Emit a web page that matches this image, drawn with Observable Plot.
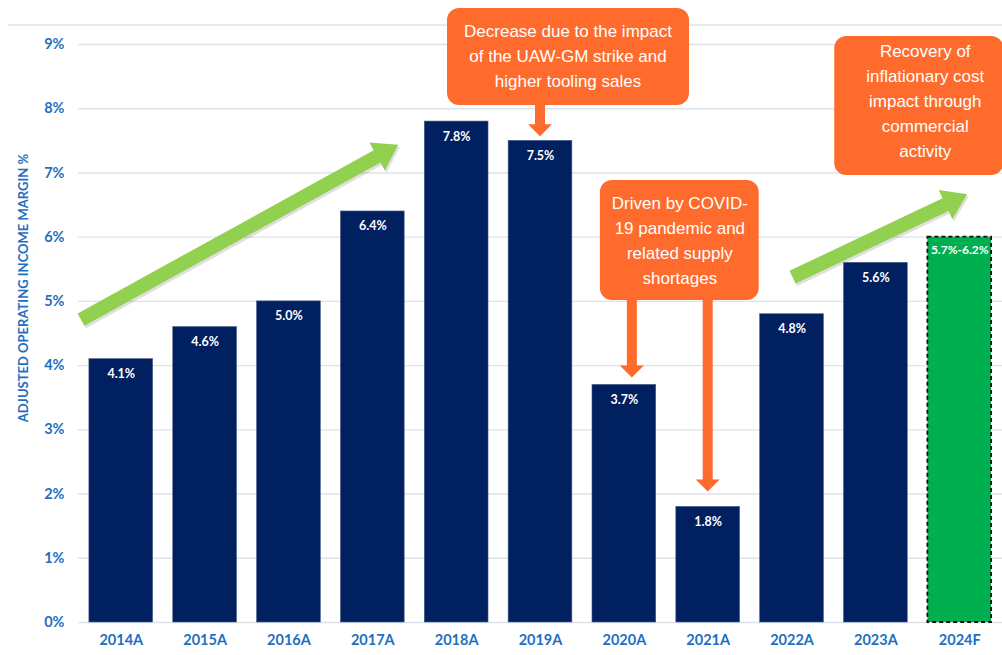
<!DOCTYPE html>
<html>
<head>
<meta charset="utf-8">
<script src="https://cdn.jsdelivr.net/npm/d3@7"></script>
<script src="https://cdn.jsdelivr.net/npm/@observablehq/plot@0.6"></script>
<style>
  html, body { margin: 0; padding: 0; background: #ffffff; }
  #chart { width: 1002px; height: 655px; overflow: hidden; }
</style>
</head>
<body>
<div id="chart"></div>
<script>
// ---- Data ----
const categories = ["2014A", "2015A", "2016A", "2017A", "2018A", "2019A", "2020A", "2021A", "2022A", "2023A", "2024F"];
const actualYears = ["2014A", "2015A", "2016A", "2017A", "2018A", "2019A", "2020A", "2021A", "2022A", "2023A"];
const actualValues = [4.1, 4.6, 5.0, 6.4, 7.8, 7.5, 3.7, 1.8, 4.8, 5.6];
const actualLabels = ["4.1%", "4.6%", "5.0%", "6.4%", "7.8%", "7.5%", "3.7%", "1.8%", "4.8%", "5.6%"];
const forecastYears = ["2024F"];
const forecastValues = [6.0];
const forecastLabels = ["5.7%-6.2%"];
const yTicks = [0, 1, 2, 3, 4, 5, 6, 7, 8, 9];
const yTitle = "ADJUSTED OPERATING INCOME MARGIN %";
const callout1 = ["Decrease due to the impact", "of the UAW-GM strike and", "higher tooling sales"];
const callout2 = ["Driven by COVID-", "19 pandemic and", "related supply", "shortages"];
const callout3 = ["Recovery of", "inflationary cost", "impact through", "commercial", "activity"];

const actual = actualYears.map((c, i) => ({cat: c, v: actualValues[i], label: actualLabels[i]}));
const forecast = forecastYears.map((c, i) => ({cat: c, v: forecastValues[i], label: forecastLabels[i]}));

const NAVY = "#002060", BLUE = "#1F6FBF", ORANGE = "#FF6B2D", LIME = "#92D050", GRID = "#DCE2EB";

function annotations(index, scales, values, dimensions) {
  const sx = scales.x, sy = scales.y;
  let bw = (scales.scales && scales.scales.x && scales.scales.x.bandwidth) || (typeof sx.bandwidth === "function" ? sx.bandwidth() : 64);
  const xc = c => sx(c) + bw / 2;
  const g = d3.create("svg:g").attr("font-weight", "normal");

  // top border line
  g.append("line").attr("x1", 8).attr("x2", dimensions.width).attr("y1", 25).attr("y2", 25)
    .attr("stroke", GRID).attr("stroke-width", 1.3);

  // y axis title
  g.append("text").attr("transform", `translate(25,${sy(5.2)}) rotate(-90)`)
    .attr("text-anchor", "middle").attr("dominant-baseline", "middle")
    .attr("fill", BLUE).attr("font-family", "Lato").attr("font-weight", "bold").attr("font-size", 13)
    .text(yTitle);

  // green arrows
  function greenArrow(S, T) {
    const w = 14, hw = 32, hl = 24;
    const dx = T[0] - S[0], dy = T[1] - S[1], L = Math.hypot(dx, dy);
    const u = [dx / L, dy / L], n = [-u[1], u[0]];
    const B = [T[0] - u[0] * hl, T[1] - u[1] * hl];
    const p = (P, k) => [P[0] + n[0] * k, P[1] + n[1] * k];
    const pts = [p(S, w / 2), p(B, w / 2), p(B, hw / 2), T, p(B, -hw / 2), p(B, -w / 2), p(S, -w / 2)];
    g.append("polygon").attr("points", pts.map(q => (q[0] + 1.5) + "," + (q[1] + 2.5)).join(" "))
      .attr("fill", "#7f7f7f").attr("opacity", 0.25);
    g.append("polygon").attr("points", pts.map(q => q.join(",")).join(" ")).attr("fill", LIME);
  }
  greenArrow([dimensions.marginLeft + 3, sy(4.71)], [xc("2018A") - 58, sy(7.43)]);
  greenArrow([xc("2022A") + 1, sy(5.37)], [xc("2024F") + 8, sy(6.66)]);

  // orange callouts
  function box(x1, y1, x2, y2, lines, cx, firstY) {
    g.append("rect").attr("x", x1).attr("y", y1).attr("width", x2 - x1).attr("height", y2 - y1)
      .attr("rx", 12).attr("ry", 12).attr("fill", ORANGE);
    lines.forEach((t, i) => {
      g.append("text").attr("x", cx).attr("y", firstY + i * 24.8)
        .attr("text-anchor", "middle").attr("dominant-baseline", "middle")
        .attr("fill", "white").attr("font-family", "Liberation Sans, Arial, sans-serif")
        .attr("font-weight", "normal").attr("font-size", 17)
        .text(t);
    });
  }
  function downArrow(x, y0, tip) {
    const sw = 10, hw = 24, hh = 12;
    g.append("rect").attr("x", x - sw / 2).attr("y", y0 - 1).attr("width", sw).attr("height", tip - hh - y0 + 2).attr("fill", ORANGE);
    g.append("polygon").attr("points", `${x - hw / 2},${tip - hh} ${x + hw / 2},${tip - hh} ${x},${tip}`).attr("fill", ORANGE);
  }
  const c1x = xc("2019A");
  box(c1x - 93, 8, c1x + 149, 105, callout1, c1x + 28, 33);
  downArrow(c1x, 105, sy(7.5) - 4);

  const c2a = xc("2020A") + 8, c2b = xc("2021A");
  box(c2a - 32, 180, c2b + 51, 300, callout2, c2a + 48, 205);
  downArrow(c2a, 300, sy(3.7) - 7);
  downArrow(c2b, 300, sy(1.8) - 15);

  const c3x = xc("2024F");
  box(c3x - 125, 36, c3x + 44, 175, callout3, c3x - 34, 53);

  return g.node();
}

const chart = Plot.plot({
  width: 1002,
  height: 655,
  marginLeft: 78,
  marginRight: 0,
  marginTop: 44,
  marginBottom: 33,
  style: {fontFamily: "Lato, sans-serif", fontSize: "14.5px", fontWeight: "bold", color: BLUE, background: "white"},
  x: {domain: categories, paddingInner: 0.24, paddingOuter: 0.13, round: false, tickSize: 0, tickPadding: 12, label: null},
  y: {domain: [0, 9], ticks: yTicks, tickFormat: d => d + "%", tickSize: 0, tickPadding: 14, label: null},
  marks: [
    Plot.ruleY(yTicks, {stroke: GRID, strokeWidth: 1.4}),
    Plot.barY(actual, {x: "cat", y: "v", fill: NAVY, stroke: "#4a5c88", strokeWidth: 0.6}),
    Plot.barY(forecast, {x: "cat", y: "v", fill: "#00B050", stroke: "#111", strokeWidth: 1.8, strokeDasharray: "4,3"}),
    Plot.text(actual, {x: "cat", y: "v", text: "label", dy: 15, fill: "white", fontSize: 12.5, fontWeight: "bold"}),
    Plot.text(forecast, {x: "cat", y: "v", text: "label", dy: 13, fill: "white", fontSize: 12, fontWeight: "bold"}),
    annotations
  ]
});
document.getElementById("chart").appendChild(chart);
</script>
</body>
</html>
